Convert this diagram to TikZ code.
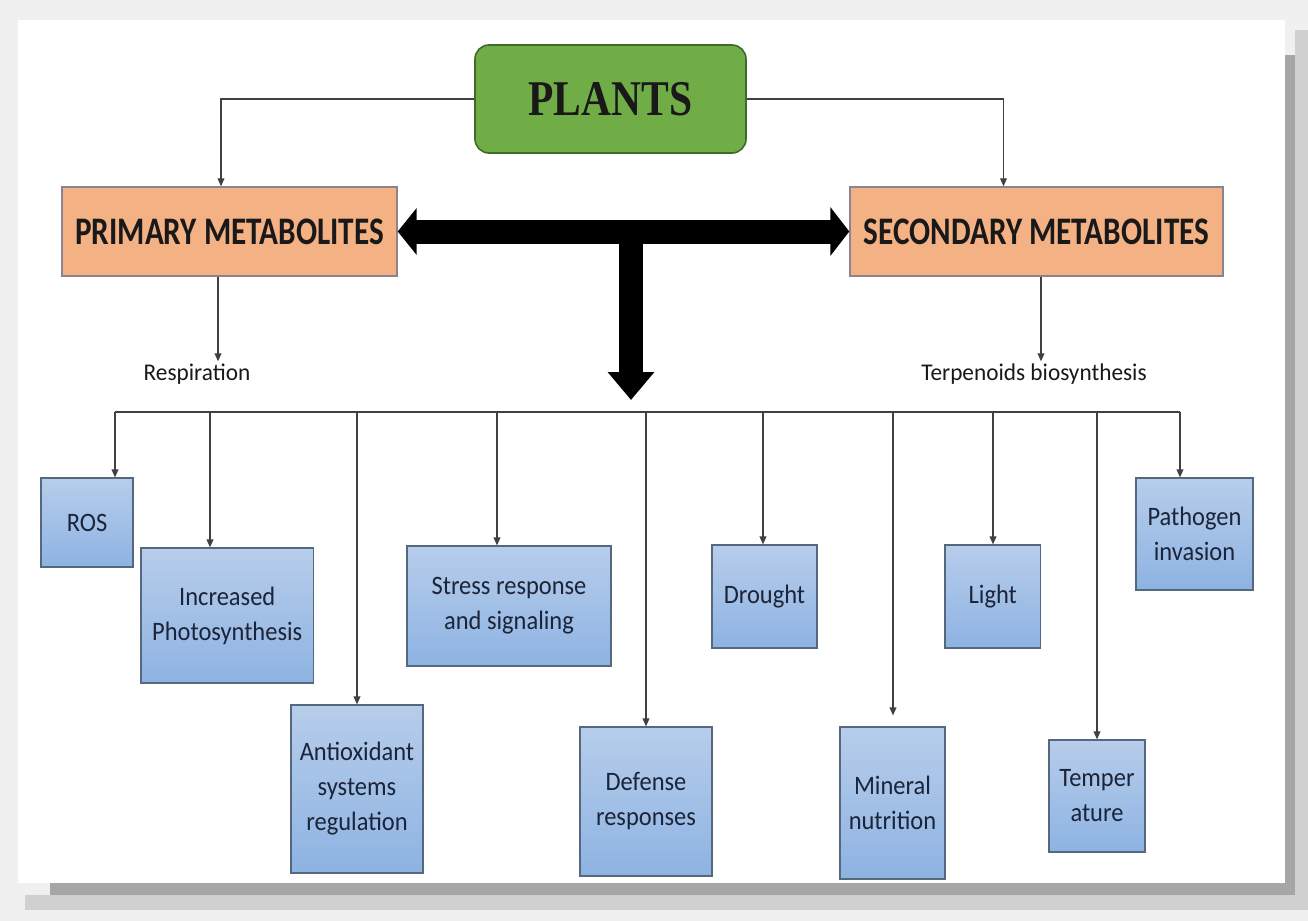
\documentclass[tikz,border=0pt]{standalone}
\usepackage{fontspec}
\usetikzlibrary{arrows.meta}
\newfontfamily\plantsfont[FakeStretch=0.83]{Liberation Serif}
\newfontfamily\headfont[FakeStretch=0.8]{Carlito}
\newfontfamily\boxfont[FakeStretch=0.92]{Carlito}
\newfontfamily\notefont[FakeStretch=0.97]{Carlito}
\definecolor{plantgreen}{HTML}{70AD47}
\definecolor{plantedge}{HTML}{3F6B2A}
\definecolor{metafill}{HTML}{F4B183}
\definecolor{metaedge}{HTML}{8A8490}
\definecolor{boxtop}{HTML}{B7CDEB}
\definecolor{boxbot}{HTML}{8DB3E2}
\definecolor{boxedge}{HTML}{56687E}
\definecolor{boxtext}{HTML}{1B2438}
\definecolor{linkgray}{HTML}{404040}
\definecolor{pagegray}{HTML}{F0F0F0}
\definecolor{shadowdark}{HTML}{A6A6A6}
\definecolor{shadowlight}{HTML}{D0D0D0}
\begin{document}
\begin{tikzpicture}[x=0.5pt,y=-0.5pt,
  plantbox/.style={draw=plantedge, line width=0.8pt, fill=plantgreen, rounded corners=7pt,
    minimum width=135.5pt, minimum height=54pt, font=\plantsfont\bfseries\fontsize{25}{30}\selectfont, text=black!90},
  metabox/.style={draw=metaedge, line width=0.7pt, fill=metafill, minimum height=44.5pt,
    font=\headfont\bfseries\fontsize{19.5}{24}\selectfont, text=black!90},
  note/.style={font=\notefont\fontsize{12}{14}\selectfont, text=black!90, inner sep=1pt},
  box/.style={draw=boxedge, line width=0.6pt, top color=boxtop, bottom color=boxbot, text=boxtext,
    font=\boxfont\fontsize{13.3}{17.5}\selectfont, align=center, inner sep=0pt},
  link/.style={draw=linkgray, line width=0.6pt, -{Triangle[length=4pt,width=3.4pt]}},
  bus/.style={draw=linkgray, line width=0.6pt},
  bigline/.style={draw=black, line width=12pt}]
\useasboundingbox (0,0) rectangle (1308,921);
% page and frame
\fill[pagegray] (0,0) rectangle (1308,921);
\fill[shadowlight] (25,895) rectangle (1308,910);
\fill[shadowlight] (1295,30) rectangle (1308,910);
\fill[shadowdark] (50,883) rectangle (1295,895);
\fill[shadowdark] (1285,55) rectangle (1295,895);
\fill[white] (18,20) rectangle (1285,883);

% top level
\node[plantbox] (plants) at (610.5,99) {PLANTS};
\node[metabox, minimum width=167.5pt] (primary) at (229.5,231.5) {PRIMARY METABOLITES};
\node[metabox, minimum width=186.5pt] (secondary) at (1036.5,231.5) {SECONDARY METABOLITES};
\draw[link] (plants.west) -| ([xshift=-4.25pt]primary.north);
\draw[link] (plants.east) -| ([xshift=-16.5pt]secondary.north);

\node[note] (resp) at (197,374) {Respiration};
\node[note] (terp) at (1034,374) {Terpenoids biosynthesis};
\coordinate (pdrop) at ([xshift=-5.75pt]primary.south);
\coordinate (sdrop) at ([xshift=2.25pt]secondary.south);
\draw[link] (pdrop) -- (pdrop |- resp.north);
\draw[link] (sdrop) -- (sdrop |- terp.north);

% big arrows
\coordinate (tjoin) at (631,231);
\coordinate (tdown) at (631,400);
\draw[bigline, {Triangle[width=23pt,length=9.5pt]}-{Triangle[width=24pt,length=9.5pt]}] (primary.east) -- (secondary.west);
\draw[bigline, -{Triangle[width=22.5pt,length=14pt]}] (tjoin) -- (tdown);

% factor boxes
\node[box, minimum width=46pt, minimum height=44.5pt] (ros) at (87,522.5) {ROS};
\node[box, minimum width=86.25pt, minimum height=67.5pt] (photo) at (227.25,615.5) {Increased\\Photosynthesis};
\node[box, minimum width=66pt, minimum height=84pt] (antiox) at (357,789) {Antioxidant\\systems\\regulation};
\node[box, minimum width=102pt, minimum height=60pt] (stress) at (509,606) {Stress response\\and signaling};
\node[box, minimum width=66pt, minimum height=74.5pt] (defense) at (646,801.5) {Defense\\responses};
\node[box, minimum width=52.5pt, minimum height=51.5pt] (drought) at (764.5,596.5) {Drought};
\node[box, minimum width=52.5pt, minimum height=76pt] (mineral) at (892.5,803) {Mineral\\nutrition};
\node[box, minimum width=47.75pt, minimum height=51.5pt] (light) at (992.75,596.5) {Light};
\node[box, minimum width=48pt, minimum height=56pt] (temper) at (1097,796) {Temper\\ature};
\node[box, minimum width=58.5pt, minimum height=56pt] (pathogen) at (1194.5,534) {Pathogen\\invasion};

% bus
\coordinate (b1) at (115,412);
\coordinate (b2) at (210,412);
\coordinate (b3) at (357,412);
\coordinate (b4) at (497,412);
\coordinate (b5) at (646,412);
\coordinate (b6) at (763,412);
\coordinate (b7) at (893,412);
\coordinate (b8) at (993,412);
\coordinate (b9) at (1097,412);
\coordinate (b10) at (1180,412);
\draw[bus] (b1) -- (b10);
\draw[link] (b1) -- (b1 |- ros.north);
\draw[link] (b2) -- (b2 |- photo.north);
\draw[link] (b3) -- (b3 |- antiox.north);
\draw[link] (b4) -- (b4 |- stress.north);
\draw[link] (b5) -- (b5 |- defense.north);
\draw[link] (b6) -- (b6 |- drought.north);
\draw[link, shorten >=5.5pt] (b7) -- (b7 |- mineral.north);
\draw[link] (b8) -- (b8 |- light.north);
\draw[link] (b9) -- (b9 |- temper.north);
\draw[link] (b10) -- (b10 |- pathogen.north);
\end{tikzpicture}
\end{document}
